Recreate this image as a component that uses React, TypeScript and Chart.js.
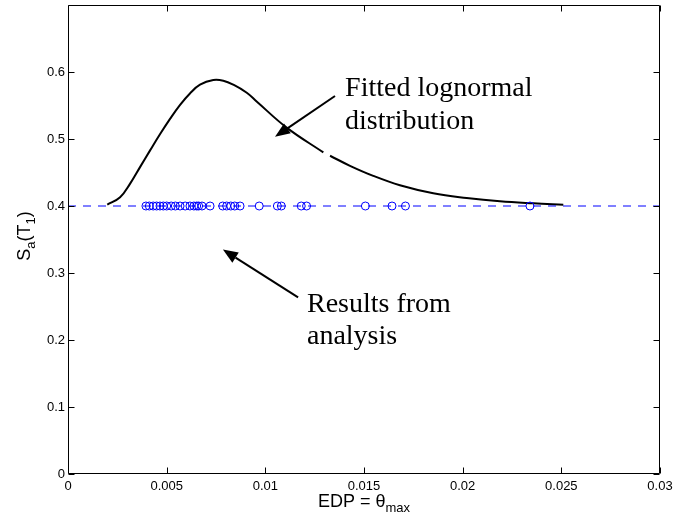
import React, { useEffect, useRef } from "react";
import { Chart, registerables } from "chart.js";

Chart.register(...registerables);

// Fitted lognormal distribution curve, null = small break in the curve
const curveX = [0.00199, 0.00264, 0.00314, 0.00365, 0.00416, 0.00466, 0.00517, 0.00568, 0.00618, 0.00669, 0.00736, 0.00787, 0.00838, 0.00906, 0.00956, 0.01108, 0.01294, 0.01310, 0.01328, 0.01429, 0.01547, 0.01682, 0.01851, 0.02020, 0.02189, 0.02358, 0.02510];
const curveY = [0.402, 0.413, 0.433, 0.458, 0.483, 0.507, 0.530, 0.551, 0.568, 0.581, 0.588, 0.587, 0.581, 0.569, 0.556, 0.517, 0.480, null, 0.475, 0.460, 0.445, 0.431, 0.419, 0.412, 0.407, 0.404, 0.402];

// Results from analysis (EDP values), all at Sa(T1) level
const resultsEDP = [0.00395, 0.00412, 0.00432, 0.00449, 0.00466, 0.00483, 0.00500, 0.00523, 0.00544, 0.00568, 0.00594, 0.00618, 0.00638, 0.00652, 0.00662, 0.00679, 0.00720, 0.00784, 0.00804, 0.00825, 0.00845, 0.00872, 0.00969, 0.01061, 0.01081, 0.01182, 0.01209, 0.01507, 0.01642, 0.01710, 0.02341];
const resultsSa = 0.4;

// Dashed reference line at the Sa level
const refLineX = [0, 0.03];
const refLineY = [0.4, 0.4];

// Axis ticks
const xTicks = [0, 0.005, 0.01, 0.015, 0.02, 0.025, 0.03];
const yTicks = [0, 0.1, 0.2, 0.3, 0.4, 0.5, 0.6];

const fmt = (v: number) => String(+v.toFixed(4));

const overlayPlugin = {
  id: "overlay",
  afterDatasetsDraw(chart: any) {
    const { ctx, chartArea: a, scales } = chart;
    const xs = scales.x;
    const ys = scales.y;
    ctx.save();
    ctx.strokeStyle = "#000";
    ctx.lineWidth = 1;
    const L = Math.round(a.left) + 0.5;
    const R = Math.round(a.right) - 0.5;
    const T = Math.round(a.top) + 0.5;
    const B = Math.round(a.bottom) - 0.5;
    ctx.beginPath();
    ctx.rect(L, T, R - L, B - T);
    ctx.stroke();
    const tl = 6;
    ctx.beginPath();
    xTicks.forEach((v) => {
      const px = Math.round(xs.getPixelForValue(v)) + 0.5;
      ctx.moveTo(px, B);
      ctx.lineTo(px, B - tl);
      ctx.moveTo(px, T);
      ctx.lineTo(px, T + tl);
    });
    yTicks.forEach((v) => {
      const py = Math.round(ys.getPixelForValue(v)) + 0.5;
      ctx.moveTo(L, py);
      ctx.lineTo(L + tl, py);
      ctx.moveTo(R, py);
      ctx.lineTo(R - tl, py);
    });
    ctx.stroke();

    // annotations
    const P = (xv: number, yv: number) => [xs.getPixelForValue(xv), ys.getPixelForValue(yv)];
    ctx.fillStyle = "#000";
    ctx.font = '28px "Liberation Serif"';
    ctx.textAlign = "left";
    ctx.textBaseline = "alphabetic";
    let p = P(0.01404, 0.5642);
    ctx.fillText("Fitted lognormal", p[0], p[1]);
    p = P(0.01404, 0.5151);
    ctx.fillText("distribution", p[0], p[1]);
    p = P(0.01211, 0.2412);
    ctx.fillText("Results from", p[0], p[1]);
    p = P(0.01211, 0.1935);
    ctx.fillText("analysis", p[0], p[1]);

    const arrow = (t: number[], h: number[]) => {
      const dx = h[0] - t[0];
      const dy = h[1] - t[1];
      const len = Math.hypot(dx, dy);
      const ux = dx / len;
      const uy = dy / len;
      const hl = 15;
      const hw = 6;
      const bx = h[0] - ux * hl;
      const by = h[1] - uy * hl;
      ctx.lineWidth = 2;
      ctx.beginPath();
      ctx.moveTo(t[0], t[1]);
      ctx.lineTo(bx, by);
      ctx.stroke();
      ctx.beginPath();
      ctx.moveTo(h[0], h[1]);
      ctx.lineTo(bx - uy * hw, by + ux * hw);
      ctx.lineTo(bx + uy * hw, by - ux * hw);
      ctx.closePath();
      ctx.fill();
    };
    arrow(P(0.01353, 0.5642), P(0.01049, 0.5032));
    arrow(P(0.01166, 0.2635), P(0.00785, 0.335));

    // axis titles
    ctx.fillStyle = "#000";
    const big = '18px "Liberation Sans"';
    const small = '13px "Liberation Sans"';
    const drawRich = (parts: [string, boolean][], cx: number, cy: number, rot: boolean) => {
      let total = 0;
      parts.forEach(([s, sub]) => {
        ctx.font = sub ? small : big;
        total += ctx.measureText(s).width;
      });
      ctx.save();
      ctx.translate(cx, cy);
      if (rot) ctx.rotate(-Math.PI / 2);
      let xx = -total / 2;
      ctx.textAlign = "left";
      parts.forEach(([s, sub]) => {
        ctx.font = sub ? small : big;
        ctx.fillText(s, xx, sub ? 5 : 0);
        xx += ctx.measureText(s).width;
      });
      ctx.restore();
    };
    drawRich([["EDP = \u03b8", false], ["max", true]], (a.left + a.right) / 2, 507, false);
    drawRich([["S", false], ["a", true], ["(T", false], ["1", true], [")", false]], 30, 236, true);
    ctx.restore();
  },
};

export default function App() {
  const ref = useRef<HTMLCanvasElement>(null);
  useEffect(() => {
    document.body.style.margin = "0";
    const canvas = ref.current;
    if (!canvas) return;
    const chart = new Chart(canvas, {
      type: "scatter",
      data: {
        datasets: [
          {
            label: "ref",
            data: refLineX.map((x, i) => ({ x, y: refLineY[i] })),
            showLine: true,
            borderColor: "#0000ff",
            borderWidth: 1,
            borderDash: [8, 7],
            pointRadius: 0,
          },
          {
            label: "results",
            data: resultsEDP.map((x) => ({ x, y: resultsSa })),
            showLine: false,
            pointStyle: "circle",
            pointRadius: 4,
            borderColor: "#0000ff",
            backgroundColor: "rgba(0,0,0,0)",
            borderWidth: 1,
          },
          {
            label: "curve",
            data: curveX.map((x, i) => ({ x, y: curveY[i] as any })),
            showLine: true,
            borderColor: "#000",
            borderWidth: 2,
            pointRadius: 0,
            tension: 0.4,
            spanGaps: false,
          } as any,
        ],
      },
      options: {
        responsive: false,
        animation: false,
        events: [],
        layout: { padding: { left: 0, top: 5, right: 14, bottom: 0 } },
        plugins: { legend: { display: false }, tooltip: { enabled: false } },
        scales: {
          x: {
            type: "linear",
            min: 0,
            max: 0.03,
            grid: { display: false, drawTicks: false },
            border: { display: false },
            afterBuildTicks: (s: any) => {
              s.ticks = xTicks.map((v) => ({ value: v }));
            },
            afterFit: (s: any) => {
              s.height = 50;
              s.paddingLeft = 0;
              s.paddingRight = 0;
            },
            ticks: {
              padding: 5,
              maxRotation: 0,
              autoSkip: false,
              color: "#000",
              font: { family: "Liberation Sans", size: 13 },
              callback: (v: any) => fmt(Number(v)),
            },
          },
          y: {
            type: "linear",
            min: 0,
            max: 0.7,
            grid: { display: false, drawTicks: false },
            border: { display: false },
            afterBuildTicks: (s: any) => {
              s.ticks = yTicks.map((v) => ({ value: v }));
            },
            afterFit: (s: any) => {
              s.width = 68;
              s.paddingTop = 0;
              s.paddingBottom = 0;
            },
            ticks: {
              padding: 3,
              autoSkip: false,
              color: "#000",
              font: { family: "Liberation Sans", size: 13 },
              callback: (v: any) => fmt(Number(v)),
            },
          },
        },
      },
      plugins: [overlayPlugin],
    });
    return () => chart.destroy();
  }, []);
  return (
    <div style={{ width: 674, height: 524, background: "#fff" }}>
      <canvas ref={ref} width={674} height={524} />
    </div>
  );
}
